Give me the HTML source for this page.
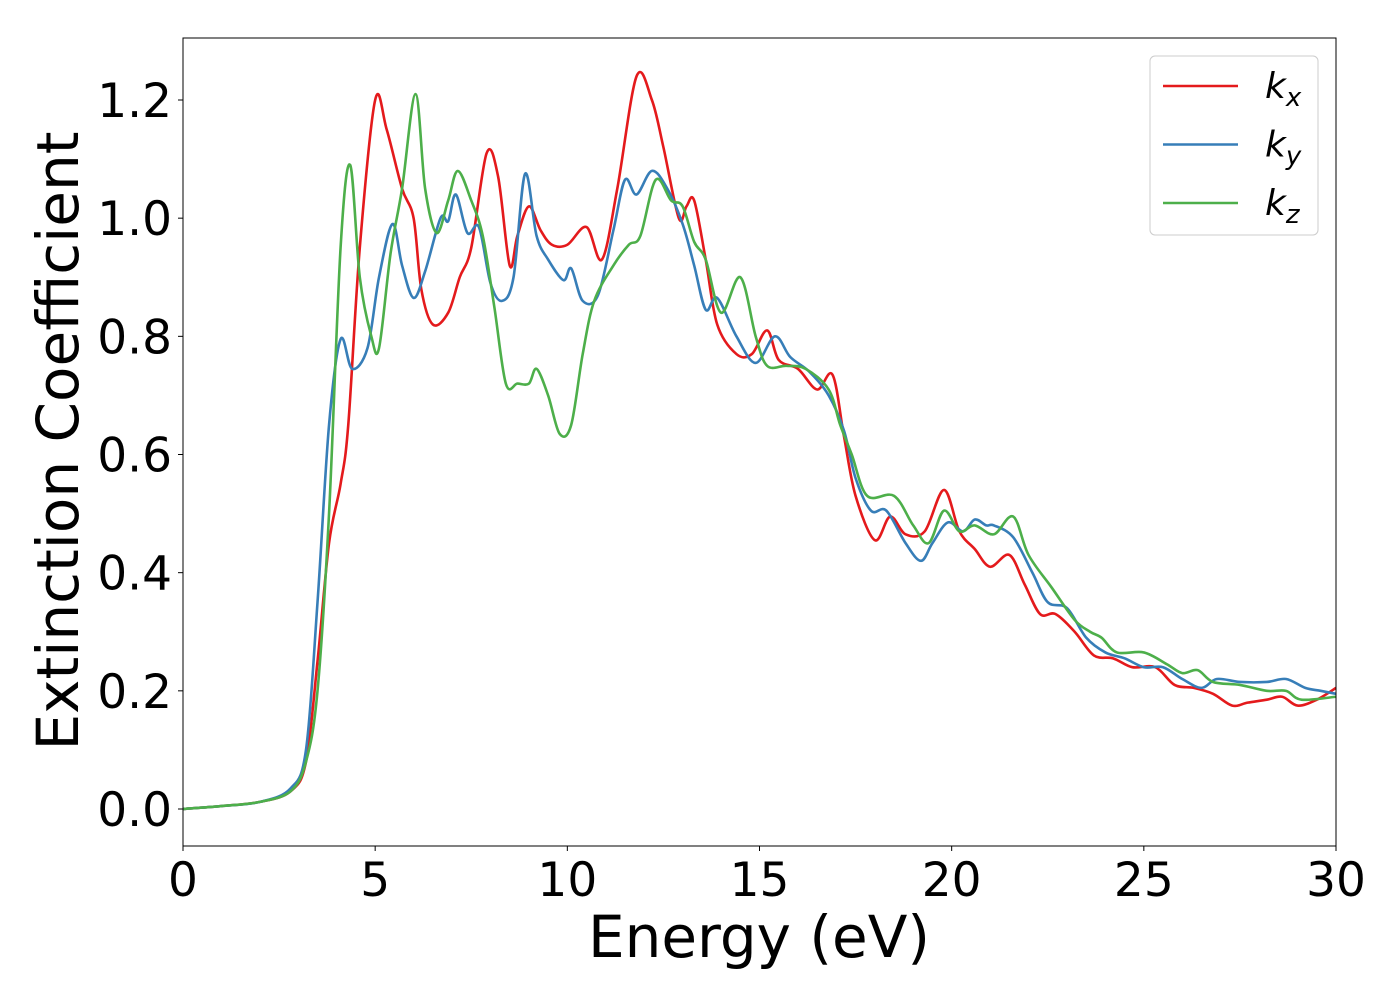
<!DOCTYPE html>
<html><head><meta charset="utf-8"><style>
body{margin:0;background:#fff}
svg text{font-family:"DejaVu Sans","Liberation Sans",sans-serif;fill:#000}
</style></head><body>
<svg width="1400" height="1000" xmlns="http://www.w3.org/2000/svg">
<rect x="0" y="0" width="1400" height="1000" fill="#fff"/>
<g id="plot"></g>
<g id="axes"></g>
</svg>
<script>
const xTicks=[0,5,10,15,20,25,30];
const yTicks=[0.0,0.2,0.4,0.6,0.8,1.0,1.2];
const yTickLabels=["0.0","0.2","0.4","0.6","0.8","1.0","1.2"];
const kxE=[0,1,2,2.8,3.2,3.5,3.8,4.1,4.3,4.6,5.0,5.3,5.7,6.0,6.2,6.5,6.9,7.2,7.5,7.9,8.2,8.5,8.7,9.0,9.3,9.6,10.0,10.5,10.9,11.3,11.8,12.2,12.5,12.9,13.1,13.3,13.6,13.9,14.4,14.8,15.2,15.5,16.0,16.5,16.9,17.2,17.5,18.0,18.4,18.8,19.3,19.8,20.2,20.6,21.0,21.5,21.9,22.3,22.7,23.2,23.7,24.2,24.7,25.3,25.8,26.3,26.8,27.3,27.7,28.2,28.6,29.0,29.5,30];
const kxV=[0,0.005,0.012,0.03,0.08,0.25,0.45,0.55,0.65,0.95,1.2,1.15,1.05,1.0,0.88,0.82,0.84,0.9,0.95,1.11,1.07,0.92,0.97,1.02,0.98,0.955,0.955,0.985,0.93,1.05,1.24,1.2,1.12,1.0,1.02,1.03,0.93,0.82,0.77,0.77,0.81,0.76,0.745,0.71,0.735,0.63,0.53,0.455,0.495,0.465,0.47,0.54,0.47,0.44,0.41,0.43,0.38,0.33,0.33,0.3,0.26,0.255,0.24,0.24,0.21,0.205,0.195,0.175,0.18,0.185,0.19,0.175,0.185,0.205];
const kyE=[0,1,2,2.8,3.2,3.5,3.8,4.1,4.4,4.8,5.1,5.45,5.7,6.0,6.3,6.7,6.9,7.1,7.4,7.7,8.0,8.3,8.6,8.9,9.2,9.5,9.9,10.1,10.4,10.8,11.2,11.5,11.8,12.2,12.6,13.0,13.3,13.6,13.9,14.4,14.9,15.4,15.8,16.3,16.8,17.2,17.5,17.9,18.3,18.8,19.2,19.5,19.9,20.3,20.6,20.9,21.1,21.6,22.1,22.5,23.0,23.5,24.0,24.5,25.0,25.5,26.0,26.5,26.9,27.5,28.2,28.7,29.2,29.6,30];
const kyV=[0,0.005,0.012,0.035,0.1,0.35,0.65,0.795,0.745,0.78,0.9,0.99,0.92,0.865,0.91,1.0,0.995,1.04,0.975,0.985,0.89,0.86,0.9,1.075,0.97,0.93,0.895,0.915,0.86,0.87,0.98,1.065,1.04,1.08,1.05,0.99,0.92,0.845,0.865,0.8,0.755,0.8,0.765,0.74,0.7,0.64,0.56,0.505,0.505,0.45,0.42,0.45,0.485,0.47,0.49,0.48,0.48,0.46,0.4,0.35,0.34,0.29,0.265,0.255,0.24,0.24,0.22,0.205,0.22,0.215,0.215,0.22,0.205,0.2,0.195];
const kzE=[0,1,2,2.8,3.2,3.5,3.8,4.1,4.35,4.6,4.9,5.1,5.4,5.7,6.05,6.3,6.6,6.9,7.15,7.5,7.8,8.1,8.4,8.7,9.0,9.2,9.5,9.8,10.1,10.4,10.7,11.2,11.6,11.9,12.3,12.7,13.0,13.3,13.6,14.0,14.5,14.9,15.2,15.7,16.2,16.8,17.1,17.4,17.8,18.5,19.0,19.4,19.8,20.2,20.6,21.1,21.6,22.0,22.6,23.2,23.6,23.9,24.3,25.0,25.6,26.0,26.4,26.8,27.5,28.2,28.7,29.1,30];
const kzV=[0,0.005,0.012,0.03,0.08,0.2,0.5,0.95,1.09,0.9,0.8,0.78,0.94,1.05,1.21,1.05,0.975,1.03,1.08,1.03,0.97,0.85,0.72,0.72,0.72,0.745,0.7,0.635,0.65,0.77,0.86,0.92,0.955,0.97,1.065,1.03,1.02,0.96,0.93,0.84,0.9,0.8,0.75,0.75,0.745,0.71,0.65,0.6,0.53,0.53,0.48,0.45,0.505,0.47,0.48,0.465,0.495,0.43,0.375,0.32,0.3,0.29,0.265,0.265,0.245,0.23,0.235,0.215,0.21,0.2,0.2,0.185,0.19];
const series=[{name:"kx",E:kxE,V:kxV,c:"#e41a1c",s:"x"},{name:"ky",E:kyE,V:kyV,c:"#377eb8",s:"y"},{name:"kz",E:kzE,V:kzV,c:"#4daf4a",s:"z"}];
const X0=183,X1=1336,YT=38,YB=846;
const sx=e=>X0+(e-0)/30*(X1-X0);
const sy=v=>809-v*(809-100)/1.2;
const NS="http://www.w3.org/2000/svg";
function mk(t,a){const el=document.createElementNS(NS,t);for(const k in a)el.setAttribute(k,a[k]);return el;}
const plot=document.getElementById('plot'),axes=document.getElementById('axes');
function pathFor(E,V){const p=E.map((e,i)=>[sx(e),sy(V[i])]);let d="M"+p[0][0]+","+p[0][1];
for(let i=0;i<p.length-1;i++){const p0=p[i-1]||p[i],p1=p[i],p2=p[i+1],p3=p[i+2]||p2;
const c1=[p1[0]+(p2[0]-p0[0])/6,p1[1]+(p2[1]-p0[1])/6],c2=[p2[0]-(p3[0]-p1[0])/6,p2[1]-(p3[1]-p1[1])/6];
d+=` C${c1[0]},${c1[1]} ${c2[0]},${c2[1]} ${p2[0]},${p2[1]}`;}return d;}
series.forEach(s=>{const p=mk('path',{d:pathFor(s.E,s.V),fill:'none',stroke:s.c,'stroke-width':2.6});


plot.appendChild(p);});
const fr=mk('rect',{x:X0,y:YT,width:X1-X0,height:YB-YT,fill:'none',stroke:'#000','stroke-width':1});


axes.appendChild(fr);
xTicks.forEach(t=>{const x=sx(t);axes.appendChild(mk('line',{x1:x,x2:x,y1:YB,y2:YB+5,stroke:'#000'}));
const tx=mk('text',{x:x,y:YB+50,'font-size':47,'text-anchor':'middle'});tx.textContent=t;


axes.appendChild(tx);});
yTicks.forEach((t,i)=>{const y=sy(t);axes.appendChild(mk('line',{x1:X0-5,x2:X0,y1:y,y2:y,stroke:'#000'}));
const tx=mk('text',{x:X0-11,y:y+17,'font-size':47,'text-anchor':'end'});tx.textContent=yTickLabels[i];


axes.appendChild(tx);});
const xt=mk('text',{x:759,y:957,'font-size':58,'text-anchor':'middle'});xt.textContent="Energy (eV)";


axes.appendChild(xt);
const yt=mk('text',{x:0,y:0,'font-size':58,'text-anchor':'middle',transform:'translate(78,441) rotate(-90)'});yt.textContent="Extinction Coefficient";


axes.appendChild(yt);
const lg=mk('g',{});


axes.appendChild(lg);
lg.appendChild(mk('rect',{x:1150,y:56,width:168,height:179,rx:5,fill:'#fff',stroke:'#ccc','stroke-width':1}));
series.forEach((s,i)=>{const y=86+i*58.5;
const g=mk('g',{});


g.appendChild(mk('line',{x1:1163,x2:1238,y1:y,y2:y,stroke:s.c,'stroke-width':2.6}));
const t=mk('text',{x:1265,y:y+12,'font-size':36,'font-style':'italic'});t.textContent="k";
const sub=mk('tspan',{'font-size':26,dy:8});sub.textContent=s.s;t.appendChild(sub);
g.appendChild(t);lg.appendChild(g);});
</script>
</body></html>
